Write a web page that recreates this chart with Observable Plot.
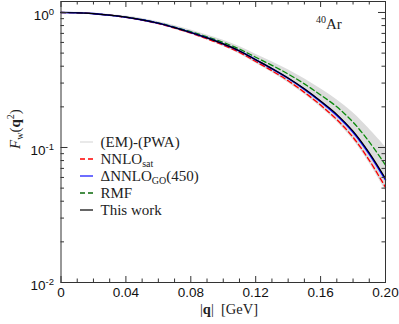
<!DOCTYPE html>
<html><head><meta charset="utf-8">
<script src="https://cdn.jsdelivr.net/npm/d3@7"></script>
<script src="https://cdn.jsdelivr.net/npm/@observablehq/plot@0.6"></script>
<style>body{margin:0;background:#fff} svg{display:block} svg text.serif, svg text.serif tspan{font-family:"Times New Roman","Liberation Serif","DejaVu Serif","Noto Serif",Times,serif !important;}</style>
</head><body><div id="chart"></div>
<script>
// momentum transfer |q| in GeV
const q = [0,0.01,0.02,0.03,0.04,0.05,0.06,0.07,0.08,0.09,0.10,0.11,0.12,0.13,0.14,0.15,0.16,0.17,0.18,0.19,0.20];
// (EM)-(PWA) band
const bandLow  = [0.991,0.986,0.969,0.942,0.908,0.865,0.813,0.752,0.689,0.625,0.560,0.493,0.421,0.359,0.302,0.248,0.199,0.155,0.114,0.0766,0.0479];
const bandHigh = [1.009,1.004,0.991,0.968,0.940,0.902,0.855,0.800,0.741,0.682,0.622,0.560,0.491,0.432,0.377,0.323,0.272,0.226,0.181,0.137,0.101];
// NNLO_sat
const nnloSat  = [1,0.995,0.980,0.955,0.920,0.877,0.826,0.766,0.703,0.638,0.573,0.506,0.433,0.370,0.312,0.256,0.206,0.161,0.119,0.0804,0.0507];
// ΔNNLO_GO(450)
const dnnloGO  = [1,0.995,0.980,0.955,0.923,0.881,0.832,0.773,0.711,0.649,0.585,0.519,0.447,0.383,0.325,0.270,0.219,0.173,0.130,0.0895,0.0575];
// RMF
const rmf      = [1,0.995,0.980,0.955,0.925,0.885,0.838,0.780,0.721,0.661,0.600,0.536,0.466,0.406,0.350,0.296,0.245,0.200,0.154,0.110,0.0741];
// This work
const thisWork = [1,0.995,0.980,0.955,0.923,0.881,0.832,0.773,0.711,0.649,0.585,0.519,0.447,0.385,0.327,0.272,0.221,0.176,0.132,0.0912,0.0589];

const xTicks = [0,0.04,0.08,0.12,0.16,0.20];
const xTickLabels = ["0","0.04","0.08","0.12","0.16","0.20"];
const xMinor = [0.01,0.02,0.03,0.05,0.06,0.07,0.09,0.10,0.11,0.13,0.14,0.15,0.17,0.18,0.19];
const yTicks = [1,0.1,0.01];
const yTickExp = ["0","-1","-2"];
const yMinor = [0.02,0.03,0.04,0.05,0.06,0.07,0.08,0.09,0.2,0.3,0.4,0.5,0.6,0.7,0.8,0.9];

const legendLabels = ["(EM)-(PWA)","NNLO_sat","ΔNNLO_GO(450)","RMF","This work"];

const data = q.map((x,i)=>({q:x, lo:bandLow[i], hi:bandHigh[i], sat:nnloSat[i], go:dnnloGO[i], rmf:rmf[i], tw:thisWork[i]}));

const W = 399, H = 324, mL = 60.5, mR = 14, mT = 1, mB = 42;
const pw = W - mL - mR, ph = H - mT - mB;
const curve = "catmull-rom";

const chart = Plot.plot({
  width: W, height: H,
  marginLeft: mL, marginRight: mR, marginTop: mT, marginBottom: mB,
  style: {fontFamily: "'Liberation Sans', Arial, Helvetica, sans-serif", fontSize: "13.5px", background: "#fff", color: "#111"},
  x: {domain: [0, 0.2]},
  y: {type: "log", domain: [0.01, 1.206]},
  marks: [
    Plot.areaY(data, {x: "q", y1: "lo", y2: "hi", fill: "#dcdcdc", curve}),
    Plot.lineY(data, {x: "q", y: "rmf", stroke: "#0a8a0a", strokeWidth: 1.3, strokeDasharray: "5,3", curve}),
    Plot.lineY(data, {x: "q", y: "sat", stroke: "#ff0000", strokeWidth: 1.3, strokeDasharray: "5,3", curve}),
    Plot.lineY(data, {x: "q", y: "go", stroke: "#0000ff", strokeWidth: 1.6, curve}),
    Plot.lineY(data, {x: "q", y: "tw", stroke: "#000", strokeWidth: 1.2, curve}),
    // inward ticks
    Plot.tickX(xTicks, {x: d => d, insetTop: ph - 6, stroke: "#333"}),
    Plot.tickX(xTicks, {x: d => d, insetBottom: ph - 6, stroke: "#333"}),
    Plot.tickX(xMinor, {x: d => d, insetTop: ph - 3.5, stroke: "#333"}),
    Plot.tickX(xMinor, {x: d => d, insetBottom: ph - 3.5, stroke: "#333"}),
    Plot.tickY(yTicks, {y: d => d, insetRight: pw - 7, stroke: "#333"}),
    Plot.tickY(yTicks, {y: d => d, insetLeft: pw - 7, stroke: "#333"}),
    Plot.tickY(yMinor, {y: d => d, insetRight: pw - 3.5, stroke: "#333"}),
    Plot.tickY(yMinor, {y: d => d, insetLeft: pw - 3.5, stroke: "#333"}),
    Plot.frame({stroke: "#333"}),
    Plot.axisX(xTicks, {tickSize: 0, tickPadding: 5, tickFormat: d => xTickLabels[xTicks.indexOf(d)], label: null}),
    Plot.axisY(yTicks, {tickSize: 0, tickPadding: 7, dy: 3, tickFormat: d => yTickExp[yTicks.indexOf(d)], label: null})
  ]
});

document.getElementById("chart").appendChild(chart);

const svg = d3.select(chart);
// superscript y tick labels 10^n
svg.selectAll('g[aria-label="y-axis tick label"] text').each(function(){
  const t = d3.select(this);
  const e = t.text();
  t.text("10");
  t.append("tspan").attr("dy", "-0.5em").attr("font-size", "9.5px").text(e);
});

// x axis title
const xt = svg.append("text").attr("class", "serif").attr("x", 229).attr("y", 314).attr("text-anchor", "middle")
  .attr("font-size", "14.5px").attr("fill", "#222");
xt.append("tspan").text("|");
xt.append("tspan").attr("font-weight", "bold").text("q");
xt.append("tspan").text("|  [GeV]");

// y axis title
const yt = svg.append("text").attr("class", "serif").attr("transform", "translate(20,129) rotate(-90)").attr("text-anchor", "middle")
  .attr("font-size", "15px").attr("fill", "#222");
yt.append("tspan").attr("font-style", "italic").text("F");
yt.append("tspan").attr("font-size", "10px").attr("dy", "3").text("w");
yt.append("tspan").attr("dy", "-3").text("(");
yt.append("tspan").attr("font-weight", "bold").text("q");
yt.append("tspan").attr("font-size", "10px").attr("dy", "-6").text("2");
yt.append("tspan").attr("dy", "6").text(")");

// nucleus label
const nl = svg.append("text").attr("class", "serif").attr("x", 316).attr("y", 29).attr("text-anchor", "start")
  .attr("font-size", "15px").attr("fill", "#222");
nl.append("tspan").attr("font-size", "10px").attr("dy", "-6").text("40");
nl.append("tspan").attr("dy", "6").text("Ar");

// legend
const legendStyles = [
  {stroke: "#e2e2e2", dash: null, w: 1.5},
  {stroke: "#ff0000", dash: "5,3", w: 1.3},
  {stroke: "#4a4aff", dash: null, w: 1.6},
  {stroke: "#0a6a0a", dash: "5,3", w: 1.3},
  {stroke: "#333", dash: null, w: 1.5}
];
const legendY = [142, 159, 176, 193, 210];
const lg = svg.append("g");
legendLabels.forEach((lab, i) => {
  const y = legendY[i];
  const s = legendStyles[i];
  lg.append("line").attr("x1", 80).attr("x2", 93).attr("y1", y).attr("y2", y)
    .attr("stroke", s.stroke).attr("stroke-width", s.w).attr("stroke-dasharray", s.dash);
  const t = lg.append("text").attr("class", "serif").attr("x", 100.5).attr("y", y + 5).attr("text-anchor", "start")
    .attr("font-size", "15px").attr("fill", "#222");
  const m = lab.match(/^(.*)_(\w+)(.*)$/);
  if (m) {
    t.append("tspan").text(m[1]);
    t.append("tspan").attr("font-size", "10px").attr("dy", "3").text(m[2]);
    t.append("tspan").attr("dy", "-3").text(m[3]);
  } else t.text(lab);
});
</script>
</body></html>
